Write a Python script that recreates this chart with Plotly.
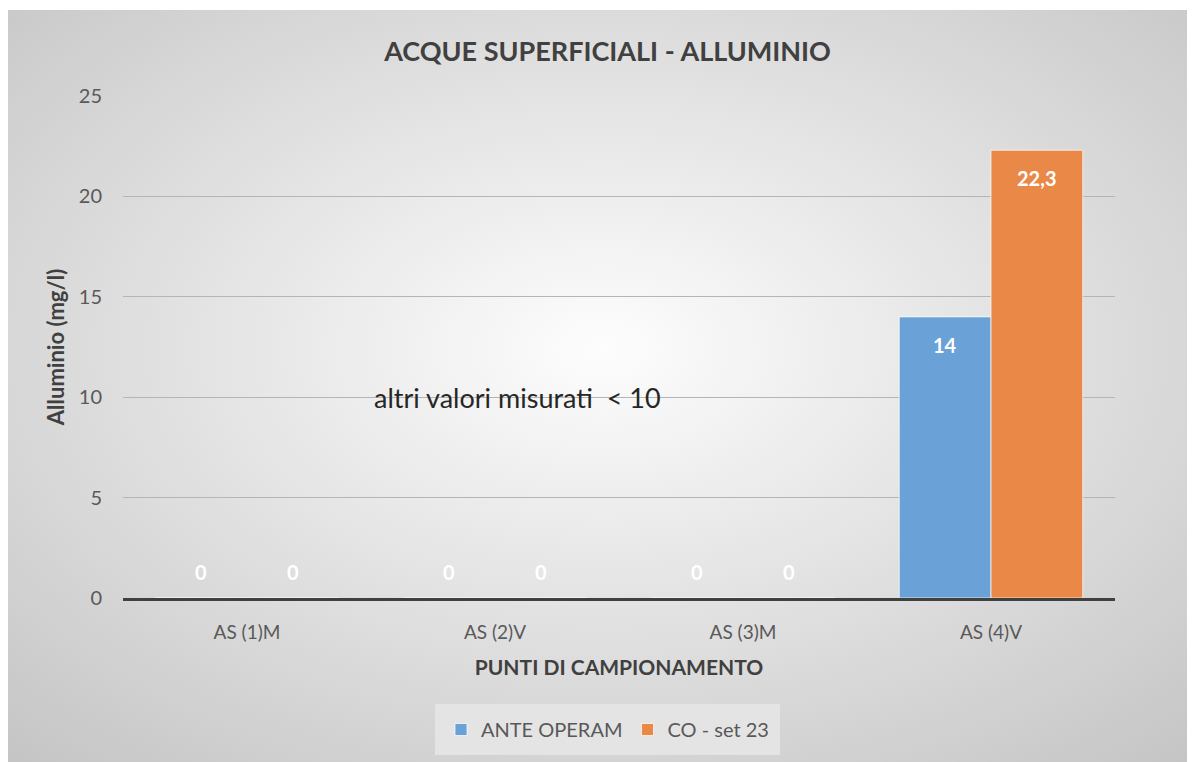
import base64
import plotly.graph_objects as go

# data
punti = ["AS (1)M", "AS (2)V", "AS (3)M", "AS (4)V"]
ante_operam = [0, 0, 0, 14]
co_set23 = [0, 0, 0, 22.3]
ante_labels = ["0", "0", "0", "14"]
co_labels = ["0", "0", "0", "22,3"]

FONT = "Lato, 'Open Sans', sans-serif"
GREY = "#595959"

# page has an 8px body margin, so the figure is 8px smaller than the window
W, H = 1187, 754
L, R, T, B = 115, 80, 88, 164
plot_w, plot_h = W - L - R, H - T - B
BARGAP = 0.26
half_bar = plot_w / len(punti) * (1 - BARGAP) / 4  # px from group centre to bar centre

# radial grey background like the Excel chart area
svg = (
    '<svg xmlns="http://www.w3.org/2000/svg" width="1187" height="752" preserveAspectRatio="none">'
    '<defs><radialGradient id="g" cx="50%" cy="45%" r="75%">'
    '<stop offset="0%" stop-color="#fdfdfd"/>'
    '<stop offset="100%" stop-color="#c4c4c4"/>'
    '</radialGradient></defs>'
    '<rect width="1187" height="752" fill="url(#g)"/></svg>'
)
bg_src = "data:image/svg+xml;base64," + base64.b64encode(svg.encode()).decode()

fig = go.Figure()
series = [
    ("ANTE OPERAM", ante_operam, ante_labels, "#6aa2d8", -1),
    ("CO - set 23", co_set23, co_labels, "#ea8847", 1),
]
for name, vals, labels, color, side in series:
    fig.add_trace(go.Bar(
        x=punti, y=vals, name=name,
        marker=dict(color=color, line=dict(color="rgba(255,255,255,0.7)", width=1)),
    ))
    # data labels, placed like Excel's "inside end"
    for cat, v, lb in zip(punti, vals, labels):
        fig.add_annotation(
            x=cat, y=v, text=lb, showarrow=False,
            xshift=side * half_bar, yshift=26 if v == 0 else -28,
            font=dict(family=FONT, size=20, color="white", weight="bold"),
        )

fig.add_layout_image(dict(
    source=bg_src, xref="paper", yref="paper",
    x=-L / plot_w, y=(plot_h + T - 2) / plot_h,
    sizex=W / plot_w, sizey=(H - 2) / plot_h,
    xanchor="left", yanchor="top", sizing="stretch", layer="below",
))

fig.add_annotation(
    text="altri valori misurati&nbsp; &lt; 10", xref="paper", yref="y",
    x=(509.5 - L) / plot_w, y=10, showarrow=False,
    font=dict(family=FONT, size=27, color="#262626"),
)

fig.update_layout(
    width=W, height=H,
    margin=dict(l=L, r=R, t=T, b=B, autoexpand=False),
    paper_bgcolor="white", plot_bgcolor="rgba(0,0,0,0)",
    font=dict(family=FONT, color=GREY),
    title=dict(
        text="ACQUE SUPERFICIALI - ALLUMINIO", x=599.5 / W, xref="container",
        y=1 - 44 / H, yref="container", yanchor="middle", xanchor="center",
        font=dict(family=FONT, size=27, color="#404040", weight="bold"),
    ),
    barmode="group", bargap=BARGAP, bargroupgap=0.0,
    showlegend=True,
    legend=dict(
        orientation="h", x=(599.5 - L) / plot_w, xanchor="center",
        y=(T + plot_h - 721.5) / plot_h, yanchor="middle",
        bgcolor="#e4e4e4", bordercolor="#e4e4e4", borderwidth=6,
        font=dict(family=FONT, size=20, color=GREY),
        itemwidth=30,
    ),
    xaxis=dict(
        showgrid=False, zeroline=False,
        showline=True, linecolor="#404040", linewidth=3, layer="above traces",
        tickfont=dict(family=FONT, size=19, color=GREY),
        ticklabelstandoff=15,
        title=dict(text="PUNTI DI CAMPIONAMENTO", standoff=19,
                   font=dict(family=FONT, size=21, color="#404040", weight="bold")),
    ),
    yaxis=dict(
        range=[0, 25], dtick=5, showgrid=True, gridcolor="#b5b5b5", gridwidth=1,
        zeroline=False,
        tickfont=dict(family=FONT, size=20, color=GREY),
        ticklabelstandoff=20,
        title=dict(text="Alluminio (mg/l)", standoff=8,
                   font=dict(family=FONT, size=22, color="#404040", weight="bold")),
    ),
)

fig.write_html("out.html")
